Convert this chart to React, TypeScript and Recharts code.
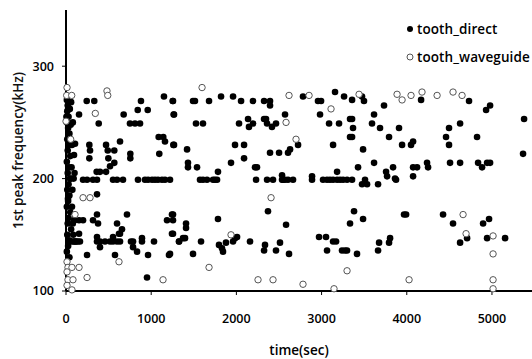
import { ScatterChart, Scatter, XAxis, YAxis, Legend } from "recharts";

// ── Data (time in sec, 1st peak frequency in kHz) ─────────────────────

const X_TICKS = [0, 1000, 2000, 3000, 4000, 5000];
const Y_TICKS = [100, 200, 300];

const directPoints: [number, number][] = [
  // dense column right after t=0
  [10, 270], [20, 265], [15, 260], [30, 255], [10, 250], [25, 245], [40, 240], [15, 235],
  [30, 230], [20, 225], [50, 220], [10, 215], [35, 210], [20, 205], [45, 200], [60, 200],
  [30, 195], [15, 190], [40, 185], [25, 180], [10, 175], [50, 170], [30, 165], [20, 160],
  [60, 155], [15, 150], [35, 145], [50, 144], [25, 140], [10, 135], [40, 130], [70, 230],
  [80, 250], [90, 200], [100, 205], [70, 175], [80, 160], [100, 163], [110, 144], [120, 144],
  [60, 268], [45, 262], [5, 255], [55, 248], [65, 210], [75, 190], [85, 150], [95, 144],
  [80, 144], [140, 144], [164, 144], [23, 182], [106, 231], [94, 221], [153, 257],
  // 0 - 1300
  [243, 269], [332, 269], [384, 249], [677, 257], [751, 249], [810, 249], [869, 249],
  [842, 261], [880, 269], [959, 261], [1150, 273], [1253, 269], [1264, 257],
  [274, 230], [282, 225], [274, 218], [470, 230], [490, 225], [497, 218], [567, 225],
  [634, 233], [755, 222], [755, 218], [517, 211], [567, 214], [360, 206], [399, 206],
  [470, 206], [1088, 237], [1142, 237], [1162, 233], [1095, 222], [1260, 230],
  [200, 199], [247, 199], [317, 199], [364, 199], [552, 199], [599, 199], [669, 199],
  [845, 199], [927, 199], [963, 199], [1010, 199], [1045, 199], [1080, 199], [1127, 199],
  [1162, 199], [1221, 199], [364, 186],
  [94, 163], [153, 163], [200, 163], [317, 163], [364, 168], [376, 160], [716, 168],
  [599, 160], [657, 155], [622, 151], [153, 151], [1186, 163], [1244, 168], [1256, 163],
  [1244, 151],
  [364, 144], [399, 144], [458, 144], [517, 144], [552, 144], [599, 144], [634, 144],
  [763, 144], [787, 144], [892, 144], [1033, 144], [1327, 144],
  [399, 139], [364, 148], [552, 148], [634, 151], [787, 139], [834, 135], [892, 147],
  [247, 132], [575, 132], [963, 132], [1209, 132], [951, 112],
  // 1250 - 3350
  [1256, 269], [1491, 269], [1514, 269], [1679, 269], [1820, 273], [1961, 273], [2055, 269],
  [2195, 269], [2325, 269], [2395, 269], [2395, 265], [2782, 273], [2958, 269], [2994, 269],
  [3158, 277], [3264, 273],
  [1268, 257], [1526, 249], [1608, 249], [2031, 249], [2137, 253], [2148, 246], [2195, 249],
  [2325, 253], [2348, 253], [2360, 249], [2418, 246], [2465, 249], [2571, 257], [2982, 257],
  [3088, 249], [3205, 249], [3334, 253],
  [1268, 230], [1421, 226], [1984, 230], [2090, 230], [2090, 218], [1937, 214], [2395, 223],
  [2501, 223], [2606, 223], [2630, 226], [2724, 230], [3135, 230], [3334, 237], [1432, 214],
  [1432, 210], [1538, 210], [1784, 206], [2219, 210], [2242, 210], [2536, 203], [2888, 202],
  [3182, 206],
  [1573, 199], [1608, 199], [1655, 199], [1726, 199], [1749, 199], [1773, 199], [2231, 199],
  [2360, 199], [2430, 199], [2536, 199], [2548, 199], [2571, 199], [2606, 199], [2665, 199],
  [2888, 199], [3017, 199], [3064, 199], [3099, 199], [3135, 199], [3182, 199], [3217, 199],
  [3252, 199], [3299, 199],
  [2371, 171], [1784, 164], [2583, 159], [1256, 168], [1409, 160], [1409, 156], [1256, 151],
  [1327, 144], [1374, 147], [1397, 147], [1585, 144], [1796, 141], [1831, 138], [1843, 135],
  [1878, 143], [1961, 144], [1984, 147], [2008, 148], [2160, 144], [2336, 141], [2325, 136],
  [2465, 136], [2512, 143], [2618, 133], [2970, 148], [3052, 148], [3135, 144], [3170, 144],
  [3064, 136], [3240, 136], [3275, 136], [3299, 136], [3334, 160], [1221, 133], [1491, 133],
  // 3350 - 5400
  [3358, 270], [3475, 273], [3498, 269], [3733, 265], [4168, 270], [4731, 269], [4931, 261],
  [4978, 265], [5377, 253], [3616, 257], [3358, 253], [3369, 245], [3592, 249], [3686, 245],
  [3909, 245], [4496, 245], [4626, 249], [3358, 237], [3792, 237], [3945, 230], [4050, 230],
  [4074, 233], [4461, 237], [4496, 230], [4825, 237], [3487, 226], [5365, 222],
  [3428, 210], [3616, 214], [3757, 206], [3769, 202], [3839, 210], [3862, 200], [4074, 210],
  [4121, 210], [4074, 202], [4238, 214], [4250, 210], [4508, 214], [4626, 214], [4837, 214],
  [4884, 210], [4943, 214], [4978, 214],
  [3358, 199], [3475, 195], [3510, 199], [3534, 195], [3663, 195], [3874, 199],
  [3381, 171], [3487, 164], [3968, 168], [3992, 168], [4426, 168], [4543, 160], [4708, 147],
  [4626, 143], [4896, 160], [4966, 164], [4943, 147], [5154, 147], [3675, 143], [3663, 136],
  [3804, 147], [3792, 143], [3416, 133],
];

const waveguidePoints: [number, number][] = [
  [12, 281], [8, 274], [67, 274], [481, 278], [490, 274], [344, 258], [0, 251], [55, 235],
  [200, 183], [282, 183], [106, 168], [622, 126], [153, 121], [247, 112], [1139, 110],
  [12, 126], [23, 121], [70, 121], [12, 117], [23, 110], [82, 110], [12, 105], [70, 101],
  [1597, 281], [2618, 274], [2853, 274], [3111, 262], [2583, 250], [2700, 235],
  [2407, 183], [1937, 150], [1679, 121], [2254, 110], [2430, 110], [2782, 106], [3146, 102],
  [3299, 118],
  [3440, 275], [3886, 275], [3945, 270], [4050, 274], [4179, 277], [4356, 274], [4543, 277],
  [4649, 274],
  [4661, 168], [4696, 151], [5013, 149], [5013, 133], [4027, 110], [5013, 110], [5013, 102],
];

const directData = directPoints.map(([x, y]) => ({ x, y }));
const waveguideData = waveguidePoints.map(([x, y]) => ({ x, y }));

// ── Component ────────────────────────────────────────────────────────

const FONT = "'Open Sans', 'Noto Sans', sans-serif";
const tickStyle = { fill: "#000", fontSize: 12.5, fontWeight: 600, fontFamily: FONT };

const FilledDot = (p: any) => <circle cx={p.cx} cy={p.cy} r={3.3} fill="#000" />;
const OpenDot = (p: any) => (
  <circle cx={p.cx} cy={p.cy} r={3.2} fill="#fff" stroke="#555" strokeWidth={1} />
);

function LegendBox() {
  const row = { display: "flex", alignItems: "center", height: 28 };
  const text = {
    fontSize: 13.5,
    fontWeight: 600,
    fontFamily: FONT,
    color: "#000",
    marginLeft: 3,
    letterSpacing: 0.1,
  };
  return (
    <div>
      <div style={row}>
        <svg width={8} height={8}>
          <circle cx={4} cy={4} r={3} fill="#000" />
        </svg>
        <span style={text}>tooth_direct</span>
      </div>
      <div style={row}>
        <svg width={8} height={8}>
          <circle cx={4} cy={4} r={3} fill="#fff" stroke="#555" />
        </svg>
        <span style={text}>tooth_waveguide</span>
      </div>
    </div>
  );
}

export default function App() {
  return (
    <div style={{ position: "absolute", left: 0, top: 0, background: "#fff" }}>
      <ScatterChart width={532} height={359} margin={{ top: 10, right: 0, bottom: 0, left: 0 }}>
        <XAxis
          type="number"
          dataKey="x"
          domain={[0, 5470]}
          ticks={X_TICKS}
          height={68}
          tick={tickStyle}
          tickSize={4}
          tickMargin={19}
          axisLine={{ stroke: "#000", strokeWidth: 2 }}
          tickLine={{ stroke: "#000" }}
          label={{
            value: "time(sec)",
            position: "insideBottom",
            offset: 4,
            fill: "#000",
            style: { fill: "#000", fontSize: 13.5, fontWeight: 600, fontFamily: FONT },
          }}
        />
        <YAxis
          type="number"
          dataKey="y"
          domain={[100, 350]}
          ticks={Y_TICKS}
          width={66}
          tick={tickStyle}
          tickSize={4}
          tickMargin={8}
          axisLine={{ stroke: "#000", strokeWidth: 2 }}
          tickLine={{ stroke: "#000" }}
          label={{
            value: "1st peak frequency(kHz)",
            angle: -90,
            position: "center",
            dx: -15,
            fill: "#000",
            style: { fill: "#111", fontSize: 13.5, fontWeight: 600, fontFamily: FONT },
          }}
        />
        <Legend
          layout="vertical"
          align="center"
          verticalAlign="middle"
          content={<LegendBox />}
          wrapperStyle={{ position: "absolute", top: 15, left: 406, width: 130 }}
        />
        <Scatter
          name="tooth_direct"
          data={directData}
          shape={FilledDot}
          isAnimationActive={false}
        />
        <Scatter
          name="tooth_waveguide"
          data={waveguideData}
          shape={OpenDot}
          isAnimationActive={false}
        />
      </ScatterChart>
    </div>
  );
}
